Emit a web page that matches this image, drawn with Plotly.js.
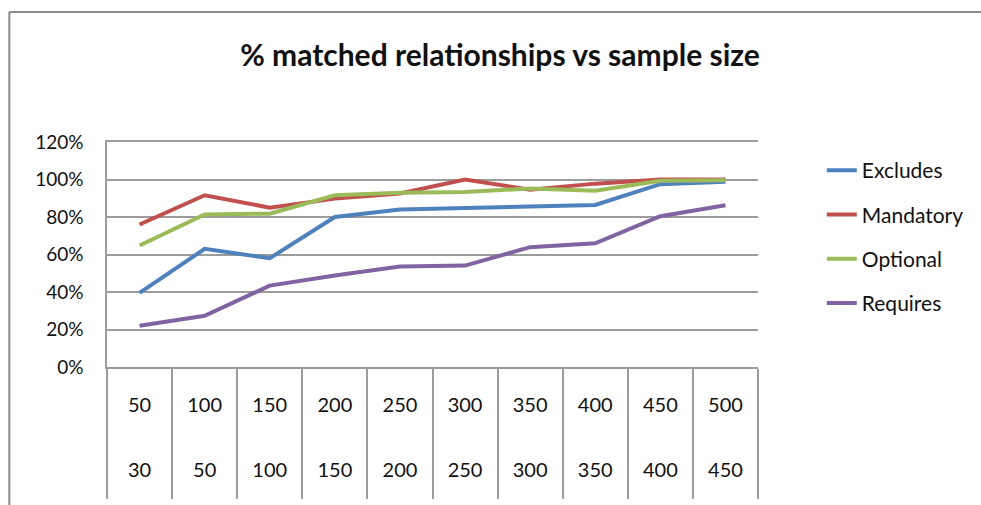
<!DOCTYPE html>
<html>
<head>
<meta charset="utf-8">
<script src="https://cdn.plot.ly/plotly-3.0.1.min.js"></script>
<style>
  html, body { margin: 0; padding: 0; background: #ffffff; overflow: hidden; }
  #chart { width: 981px; height: 505px; }
</style>
</head>
<body>
<div id="chart"></div>
<script>
// Category labels (two rows under each category)
const categories = ['50', '100', '150', '200', '250', '300', '350', '400', '450', '500'];
const secondRow  = ['30', '50', '100', '150', '200', '250', '300', '350', '400', '450'];

// Series values (fractions, shown as %)
const excludes  = [0.395, 0.63, 0.58, 0.80, 0.84, 0.848, 0.857, 0.864, 0.975, 0.988];
const mandatory = [0.76, 0.916, 0.85, 0.898, 0.925, 1.0, 0.946, 0.978, 1.0, 1.0];
const optional  = [0.648, 0.814, 0.818, 0.916, 0.929, 0.934, 0.952, 0.94, 0.993, 0.996];
const requires  = [0.22, 0.273, 0.434, 0.488, 0.536, 0.541, 0.639, 0.66, 0.804, 0.863];

const seriesNames  = ['Excludes', 'Mandatory', 'Optional', 'Requires'];
const seriesValues = [excludes, mandatory, optional, requires];
const seriesColors = ['#4F81BD', '#C0504D', '#9BBB59', '#8064A2'];

const FONT = "Lato, 'Open Sans', sans-serif";
const GRID = '#9c9c9c';
const FRAME = '#8c8c8c';
const catRange = [-0.5, categories.length - 0.5];

const W = 981, H = 505;
const M = { l: 107, r: 221, t: 142, b: 138 };
const PW = W - M.l - M.r, PH = H - M.t - M.b;
// convert page pixels to paper coordinates (for the outer chart frame)
const px = v => (v - M.l) / PW;
const py = v => (H - M.b - v) / PH;

const traces = seriesNames.map((name, i) => ({
  type: 'scatter',
  mode: 'lines',
  name: name,
  legendgroup: name,
  x: categories,
  y: seriesValues[i],
  line: { color: seriesColors[i], width: 4 },
  hovertemplate: '%{x}: %{y:.0%}<extra>' + name + '</extra>'
}));

const idx = categories.map((_, i) => i);
// helper (invisible) traces so the label axes are drawn
traces.push({ type: 'scatter', mode: 'lines', x: idx, y: requires, xaxis: 'x2',
  opacity: 0, showlegend: false, hoverinfo: 'skip', line: { width: 0 } });
traces.push({ type: 'scatter', mode: 'lines', x: idx, y: requires, xaxis: 'x3',
  opacity: 0, showlegend: false, hoverinfo: 'skip', line: { width: 0 } });

const labelAxis = (text, standoff) => ({
  overlaying: 'x', anchor: 'y', side: 'bottom',
  range: catRange,
  tickmode: 'array', tickvals: idx, ticktext: text,
  ticks: '', showgrid: false, showline: false, zeroline: false,
  ticklabelstandoff: standoff,
  tickfont: { family: FONT, size: 20, color: '#111' },
  fixedrange: true
});

const layout = {
  width: W, height: H,
  margin: M,
  paper_bgcolor: '#ffffff',
  plot_bgcolor: 'rgba(0,0,0,0)',
  font: { family: FONT, color: '#111' },
  title: {
    text: '% matched relationships vs sample size',
    x: 500 / W, xref: 'container', xanchor: 'center',
    y: 1 - 55 / H, yref: 'container', yanchor: 'middle',
    font: { family: FONT, size: 30, weight: 700, color: '#111' }
  },
  xaxis: {
    type: 'category', range: catRange,
    tickson: 'boundaries', ticks: 'outside', ticklen: 130, tickwidth: 1.5, tickcolor: GRID,
    showticklabels: false, showgrid: false, zeroline: false,
    showline: true, linecolor: GRID, linewidth: 1.5, mirror: true,
    fixedrange: true
  },
  xaxis2: labelAxis(categories, 24),
  xaxis3: labelAxis(secondRow, 89),
  yaxis: {
    range: [0, 1.2], tick0: 0, dtick: 0.2, tickformat: '.0%',
    showgrid: true, gridcolor: GRID, gridwidth: 1.5,
    showline: true, linecolor: GRID, linewidth: 1.5,
    zeroline: false, ticks: '', ticklabelstandoff: 18,
    tickfont: { family: FONT, size: 19, color: '#111' },
    fixedrange: true
  },
  legend: {
    x: (824 - M.l) / PW, xanchor: 'left',
    y: (H - M.b - 150) / PH, yanchor: 'top',
    font: { family: FONT, size: 21, color: '#111' },
    tracegroupgap: 14,
    bgcolor: 'rgba(0,0,0,0)'
  },
  shapes: [
    { type: 'line', xref: 'paper', yref: 'paper', layer: 'below',
      x0: px(9), x1: px(9), y0: py(12), y1: py(H + 10),
      line: { color: FRAME, width: 2 } },
    { type: 'line', xref: 'paper', yref: 'paper', layer: 'below',
      x0: px(9), x1: px(W + 10), y0: py(12), y1: py(12),
      line: { color: FRAME, width: 2 } }
  ],
  showlegend: true
};

Plotly.newPlot('chart', traces, layout, { displayModeBar: false, responsive: false });
</script>
</body>
</html>
